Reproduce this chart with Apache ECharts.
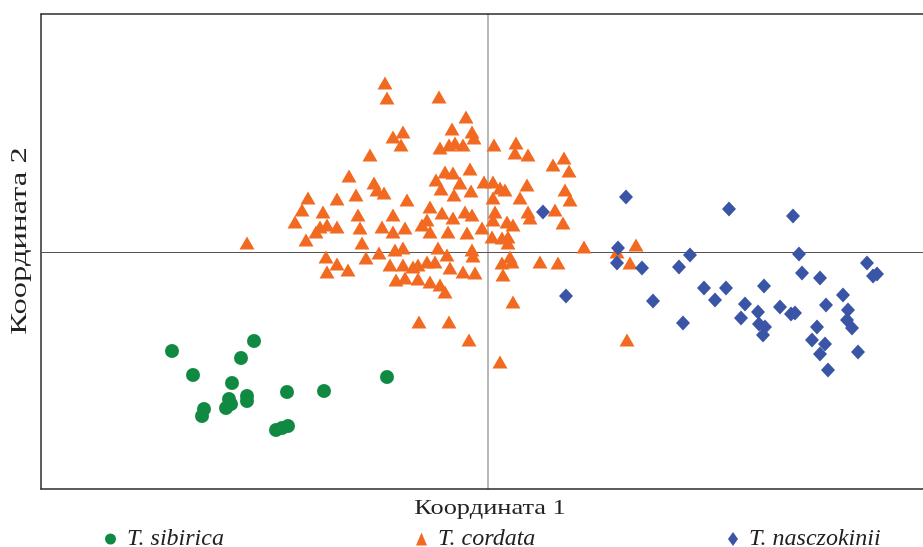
<!DOCTYPE html>
<html>
<head>
<meta charset="utf-8">
<script src="https://cdn.jsdelivr.net/npm/echarts@6/dist/echarts.min.js"></script>
<style>html,body{margin:0;padding:0;background:#fff}#c{width:923px;height:547px}</style>
</head>
<body>
<div id="c"></div>
<script>
const seriesNames = ['T. sibirica', 'T. cordata', 'T. nasczokinii'];
const axisTitles = ['Координата 1', 'Координата 2'];

const sibirica = [
  [-3.16,-0.99],[-2.34,-0.89],[-2.47,-1.06],[-2.95,-1.23],[-2.56,-1.31],[-2.41,-1.44],
  [-2.41,-1.49],[-2.59,-1.47],[-2.62,-1.56],[-2.57,-1.52],[-2.84,-1.57],[-2.86,-1.64],
  [-2.01,-1.40],[-1.64,-1.39],[-1.01,-1.25],[-2.12,-1.78],[-2.06,-1.76],[-2.00,-1.74]
];

const cordata = [
  [-1.03,1.69],[-1.01,1.54],[-0.49,1.55],[-0.22,1.35],[-0.36,1.23],[-0.16,1.20],[-0.14,1.14],
  [-0.85,1.20],[-0.95,1.15],[-0.87,1.07],[-1.18,0.97],[-1.39,0.76],[-1.14,0.69],[-1.11,0.62],
  [-1.04,0.59],[-1.32,0.57],[-1.51,0.53],[-1.80,0.54],[-0.81,0.52],[-0.48,1.04],[-0.39,1.07],
  [-0.33,1.09],[-0.25,1.07],[0.06,1.07],[0.28,1.09],[0.27,0.99],[0.40,0.97],[0.65,0.87],
  [0.76,0.94],[0.81,0.81],[-0.18,0.83],[-0.43,0.80],[-0.35,0.79],[-0.52,0.72],[-0.47,0.63],
  [-0.28,0.69],[-0.34,0.57],[-0.17,0.61],[-0.04,0.70],[0.05,0.70],[0.12,0.64],[0.17,0.62],
  [0.39,0.67],[0.32,0.54],[0.77,0.62],[0.82,0.52],[0.05,0.54],[-0.58,0.45],[-0.46,0.39],
  [-0.35,0.34],[-0.23,0.40],[-0.16,0.37],[0.07,0.40],[0.40,0.40],[0.42,0.34],[0.67,0.42],
  [0.75,0.29],[-0.61,0.32],[-0.58,0.20],[-0.40,0.20],[-0.21,0.19],[-0.06,0.24],[0.05,0.32],
  [0.19,0.30],[0.25,0.27],[0.04,0.15],[0.14,0.14],[0.20,0.15],[0.20,0.09],[-0.50,0.04],
  [-0.41,-0.03],[-0.16,0.02],[-0.15,-0.04],[-0.61,-0.10],[-0.53,-0.10],[-0.38,-0.16],
  [-0.25,-0.20],[-0.13,-0.21],[0.14,-0.11],[0.22,-0.05],[0.24,-0.10],[0.52,-0.10],[0.70,-0.11],
  [0.15,-0.23],[-0.58,-0.30],[-0.48,-0.33],[-0.43,-0.40],[0.96,0.05],[1.48,0.07],[1.29,0.00],
  [1.42,-0.11],[0.25,-0.50],[-0.69,-0.70],[-0.39,-0.70],[-0.19,-0.88],[0.12,-1.10],[1.39,-0.88],
  [-2.41,0.09],[-1.86,0.42],[-1.93,0.30],[-1.65,0.40],[-1.68,0.25],[-1.61,0.27],[-1.72,0.20],
  [-1.51,0.25],[-1.82,0.12],[-1.30,0.37],[-1.28,0.24],[-1.26,0.09],[-1.06,0.25],[-0.95,0.37],
  [-0.95,0.20],[-0.83,0.24],[-0.66,0.27],[-1.62,-0.05],[-1.51,-0.12],[-1.61,-0.20],[-1.40,-0.18],
  [-1.22,-0.06],[-1.09,-0.01],[-0.98,-0.13],[-0.93,0.02],[-0.85,0.04],[-0.85,-0.13],[-0.92,-0.28],
  [-0.83,-0.26],[-0.75,-0.15],[-0.70,-0.13],[-0.70,-0.27]
];

const nasczokinii = [
  [0.55,0.40],[1.38,0.55],[1.30,0.04],[1.29,-0.11],[1.54,-0.16],[1.91,-0.15],[2.02,-0.03],
  [0.78,-0.44],[1.65,-0.49],[1.95,-0.71],[2.16,-0.36],[2.27,-0.48],[2.38,-0.36],[2.41,0.43],
  [2.57,-0.52],[2.53,-0.66],[2.70,-0.60],[2.76,-0.34],[2.71,-0.72],[2.77,-0.75],[2.75,-0.83],
  [2.92,-0.55],[3.03,-0.62],[3.07,-0.61],[3.05,0.36],[3.11,-0.02],[3.14,-0.21],[3.32,-0.26],
  [3.38,-0.53],[3.29,-0.75],[3.24,-0.88],[3.37,-0.92],[3.32,-1.02],[3.40,-1.18],[3.55,-0.43],
  [3.60,-0.58],[3.59,-0.68],[3.64,-0.76],[3.70,-1.00],[3.79,-0.11],[3.85,-0.24],[3.89,-0.22]
];

const colors = ['#108a42', '#f26a21', '#3a55a5'];
const serif = '"Liberation Serif", "DejaVu Serif", serif';
const xRange = [-4.47, 4.35];
const yRange = [-2.37, 2.38];

const chart = echarts.init(document.getElementById('c'), null, {renderer: 'canvas'});

function legendFor(i, left, icon, w, h) {
  return {
    data: [{name: seriesNames[i], icon: icon}],
    left: left, top: 522,
    itemWidth: w, itemHeight: h,
    selectedMode: false,
    textStyle: {fontFamily: serif, fontStyle: 'italic', fontSize: 24, color: '#222', padding: [0, 0, 0, 6]}
  };
}

const hidden = {axisTick: {show: false}, axisLabel: {show: false}, splitLine: {show: false}};
const frameLine = {lineStyle: {color: '#2a2a2a', width: 1.5}};

chart.setOption({
  animation: false,
  backgroundColor: '#fff',
  grid: {left: 41, right: 0, top: 14, bottom: 58, show: false, containLabel: false},
  xAxis: [
    Object.assign({type: 'value', min: xRange[0], max: xRange[1],
      axisLine: {onZero: true, lineStyle: {color: '#555555', width: 1}}}, hidden),
    Object.assign({type: 'value', min: xRange[0], max: xRange[1], position: 'bottom',
      axisLine: Object.assign({onZero: false}, frameLine)}, hidden),
    Object.assign({type: 'value', min: xRange[0], max: xRange[1], position: 'top',
      axisLine: Object.assign({onZero: false}, frameLine)}, hidden)
  ],
  yAxis: [
    Object.assign({type: 'value', min: yRange[0], max: yRange[1],
      axisLine: {onZero: true, lineStyle: {color: '#a0a0a0', width: 1.5}}}, hidden),
    Object.assign({type: 'value', min: yRange[0], max: yRange[1], position: 'left',
      axisLine: Object.assign({onZero: false}, frameLine)}, hidden)
  ],
  legend: [
    legendFor(0, 100, 'circle', 11, 12),
    legendFor(1, 411, 'triangle', 11, 13),
    legendFor(2, 723, 'diamond', 10, 14)
  ],
  graphic: [
    {type: 'text', x: 490, y: 508, scaleX: 1.2,
     style: {text: axisTitles[0], font: '22px ' + serif, fill: '#222', textAlign: 'center', textVerticalAlign: 'middle'}},
    {type: 'text', x: 20, y: 241, rotation: Math.PI / 2, scaleX: 1.36,
     style: {text: axisTitles[1], font: '24px ' + serif, fill: '#222', textAlign: 'center', textVerticalAlign: 'middle'}}
  ],
  series: [
    {name: seriesNames[0], type: 'scatter', data: sibirica, symbol: 'circle', symbolSize: 14, itemStyle: {color: colors[0], opacity: 1}},
    {name: seriesNames[1], type: 'scatter', data: cordata, symbol: 'triangle', symbolSize: [15, 13], itemStyle: {color: colors[1], opacity: 1}},
    {name: seriesNames[2], type: 'scatter', data: nasczokinii, symbol: 'diamond', symbolSize: [14, 15], itemStyle: {color: colors[2], opacity: 1}}
  ]
});
</script>
</body>
</html>
